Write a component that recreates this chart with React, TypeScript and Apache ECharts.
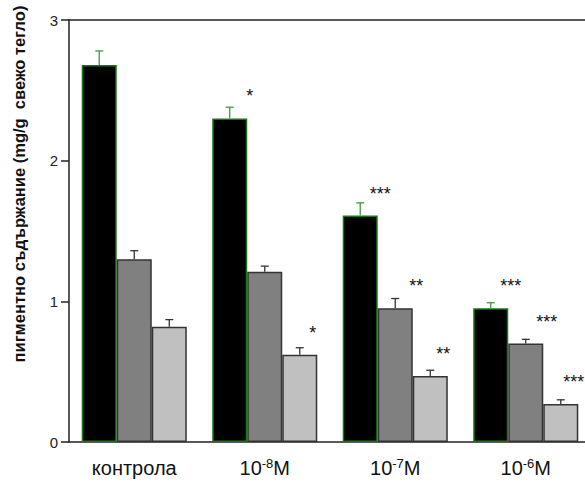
import React, { useEffect, useRef } from "react";
import * as echarts from "echarts";

const categories = ["контрола", "10^-8M", "10^-7M", "10^-6M"];
const blackVals = [2.68, 2.3, 1.61, 0.95];
const blackErr = [0.1, 0.08, 0.09, 0.04];
const grayVals = [1.3, 1.21, 0.95, 0.7];
const grayErr = [0.06, 0.04, 0.07, 0.03];
const lightVals = [0.82, 0.62, 0.47, 0.27];
const lightErr = [0.05, 0.05, 0.04, 0.03];
const blackSig = ["", "*", "***", "***"];
const graySig = ["", "", "**", "***"];
const lightSig = ["", "*", "**", "***"];
const yTicks = [0, 1, 2, 3];
const yTitle = "пигментно съдържание (mg/g  свежо тегло)";

const FONT = "Arial, 'Liberation Sans', sans-serif";
const GAP = 0.195;

function fmtCat(c: string) {
  const m = c.match(/^10\^(-?\d+)M$/);
  if (m) return "{b|10}{sup|" + m[1] + "}{b|M}";
  return "{b|" + c + "}";
}

function makeData(vals: number[], sig: string[], dx: number) {
  return vals.map((v, i) =>
    sig[i]
      ? {
          value: v,
          label: {
            show: true,
            position: "top",
            formatter: sig[i],
            offset: [dx, -8],
            fontSize: 18,
            fontFamily: FONT,
            color: "#111",
          },
        }
      : { value: v }
  );
}

function errSeries(vals: number[], errs: number[], pos: number, color: string) {
  return {
    type: "custom",
    z: 5,
    silent: true,
    data: vals.map((v, i) => [i, v, errs[i]]),
    renderItem: (params: any, api: any) => {
      const idx = api.value(0);
      const v = api.value(1);
      const e = api.value(2);
      const base = api.coord([idx, v]);
      const top = api.coord([idx, v + e]);
      const band = api.size([1, 0])[0];
      const bw = (band * (1 - GAP)) / 3;
      const x = base[0] + pos * bw;
      return {
        type: "group",
        children: [
          {
            type: "line",
            shape: { x1: x, y1: base[1], x2: x, y2: top[1] },
            style: { stroke: color, lineWidth: 1.3 },
          },
          {
            type: "line",
            shape: { x1: x - 4, y1: top[1], x2: x + 4, y2: top[1] },
            style: { stroke: color, lineWidth: 1.3 },
          },
        ],
      };
    },
  };
}

export default function App() {
  const ref = useRef<HTMLDivElement>(null);
  useEffect(() => {
    const chart = echarts.init(ref.current!, null, { renderer: "svg" });
    chart.setOption({
      animation: false,
      backgroundColor: "#fff",
      grid: { left: 69, right: 9, top: 20, bottom: 42 },
      xAxis: [
        {
          type: "category",
          data: categories,
          axisLine: { lineStyle: { color: "#222", width: 1.5 } },
          axisTick: { alignWithLabel: true, length: 8, lineStyle: { color: "#222", width: 1.5 } },
          axisLabel: {
            interval: 0,
            hideOverlap: false,
            margin: 15,
            fontSize: 20,
            fontFamily: FONT,
            color: "#111",
            formatter: (v: string) => fmtCat(v),
            rich: {
              b: { fontSize: 20, fontFamily: FONT, color: "#111", lineHeight: 22 },
              sup: { fontSize: 13, fontFamily: FONT, color: "#111", verticalAlign: "top", lineHeight: 13 },
            },
          },
        },
        {
          type: "category",
          position: "top",
          data: categories,
          axisLine: { show: true, lineStyle: { color: "#222", width: 1.5 } },
          axisTick: { show: false },
          axisLabel: { show: false },
        },
      ],
      yAxis: {
        type: "value",
        min: 0,
        max: 3,
        interval: 1,
        splitLine: { show: false },
        axisLine: { show: true, lineStyle: { color: "#222", width: 1.5 } },
        axisTick: { show: true, length: 8, lineStyle: { color: "#222", width: 1.5 } },
        axisLabel: { fontSize: 15, fontFamily: FONT, color: "#222", margin: 11,
          formatter: (v: number) => (yTicks.includes(v) ? String(v) : "") },
      },
      graphic: [
        {
          type: "text",
          x: 19,
          y: 184,
          rotation: Math.PI / 2,
          style: {
            text: yTitle,
            fontSize: 16.5,
            fontWeight: "bold",
            fontFamily: FONT,
            fill: "#111",
            align: "center",
            verticalAlign: "middle",
          },
        },
      ],
      series: [
        {
          type: "bar",
          data: makeData(blackVals, blackSig, 20),
          barGap: "0%",
          barCategoryGap: "19.5%",
          itemStyle: { color: "#000", borderColor: "#137a13", borderWidth: 1.5 },
        },
        {
          type: "bar",
          data: makeData(grayVals, graySig, 21),
          barGap: "0%",
          barCategoryGap: "19.5%",
          itemStyle: { color: "#808080", borderColor: "#333", borderWidth: 1.5 },
        },
        {
          type: "bar",
          data: makeData(lightVals, lightSig, 13),
          barGap: "0%",
          barCategoryGap: "19.5%",
          itemStyle: { color: "#c0c0c0", borderColor: "#333", borderWidth: 1.5 },
        },
        errSeries(blackVals, blackErr, -1, "#3c9a3c"),
        errSeries(grayVals, grayErr, 0, "#333"),
        errSeries(lightVals, lightErr, 1, "#333"),
      ],
    });
    return () => chart.dispose();
  }, []);
  return (
    <div
      ref={ref}
      style={{ position: "absolute", left: 0, top: 0, width: 600, height: 484 }}
    />
  );
}
